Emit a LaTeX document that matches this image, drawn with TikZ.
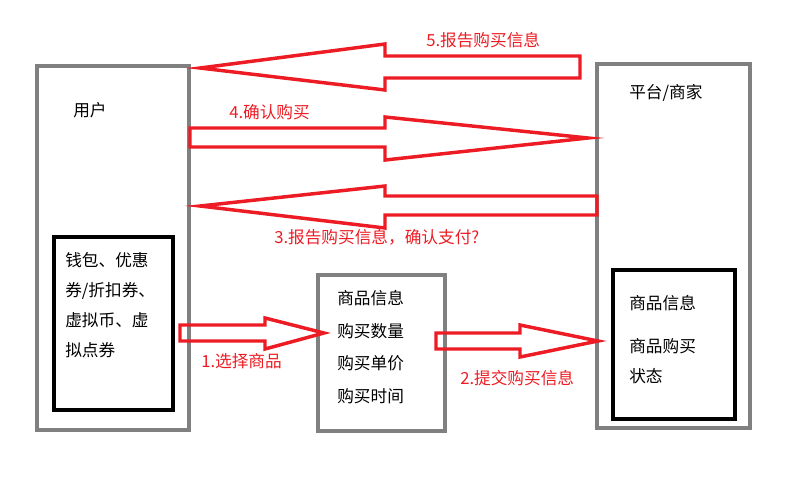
\documentclass[tikz,border=0pt]{standalone}
\usepackage{fontspec}
\setmainfont{Noto Sans CJK SC}
\usetikzlibrary{positioning}
\definecolor{arrowred}{RGB}{237,28,36}
\definecolor{boxgray}{RGB}{128,128,128}
\tikzset{
  graybox/.style={draw=boxgray,line width=3pt},
  blackbox/.style={draw=black,line width=3pt},
  redarrow/.style={draw=arrowred,line width=2.6pt,line join=miter},
  redlabel/.style={text=arrowred,font=\fontsize{12.5pt}{14pt}\selectfont,inner sep=0.75pt,anchor=north west},
  boxtext/.style={font=\fontsize{12.5pt}{22.5pt}\selectfont,inner sep=0.75pt,anchor=north west,align=left}
}
\begin{document}
\begin{tikzpicture}[x=0.75pt,y=0.75pt,yscale=-1,xscale=1]
\useasboundingbox (0,0) rectangle (807,476);

% boxes
\draw[graybox] (37,66) rectangle (189,430);
\draw[blackbox] (54,237) rectangle (173,410);
\draw[graybox] (318,275) rectangle (445,431);
\draw[graybox] (597,64) rectangle (750,428);
\draw[blackbox] (613,270) rectangle (735,419);

% arrow 5
\draw[redarrow] (580,56) -- (385,56) -- (385,44) -- (200,68) -- (385,90) -- (385,78) -- (580,78) -- cycle;
% arrow 4
\draw[redarrow] (190,128) -- (385,128) -- (385,117) -- (588,138) -- (385,160) -- (385,147) -- (190,147) -- cycle;
% arrow 3
\draw[redarrow] (597,196) -- (385,196) -- (385,186) -- (200,206) -- (385,228) -- (385,215) -- (597,215) -- cycle;
% arrow 1
\draw[redarrow] (180,325) -- (265,325) -- (265,318) -- (324,333) -- (265,349) -- (265,341) -- (180,341) -- cycle;
% arrow 2
\draw[redarrow] (436,333) -- (520,333) -- (520,325) -- (598,341) -- (520,357) -- (520,349) -- (436,349) -- cycle;

% Text Node
\node[boxtext] (user) at (72,101) {用户};
\node[boxtext] (wallet) at (64,251) {钱包、优惠\\券/折扣券、\\虚拟币、虚\\拟点券};
\node[boxtext] (goods) at (336,289) {商品信息\\[2pt]购买数量\\[2pt]购买单价\\[2pt]购买时间};
\node[boxtext] (platform) at (628,83) {平台/商家};
\node[boxtext] (state) at (628,294) {商品信息\\[10pt]商品购买\\状态};
% labels
\node[redlabel] (l5) at (425,31) {5.报告购买信息};
\node[redlabel] (l4) at (228,103) {4.确认购买};
\node[redlabel] (l3) at (273,228) {3.报告购买信息，确认支付?};
\node[redlabel] (l1) at (200,352) {1.选择商品};
\node[redlabel] (l2) at (459,369) {2.提交购买信息};
\end{tikzpicture}
\end{document}
